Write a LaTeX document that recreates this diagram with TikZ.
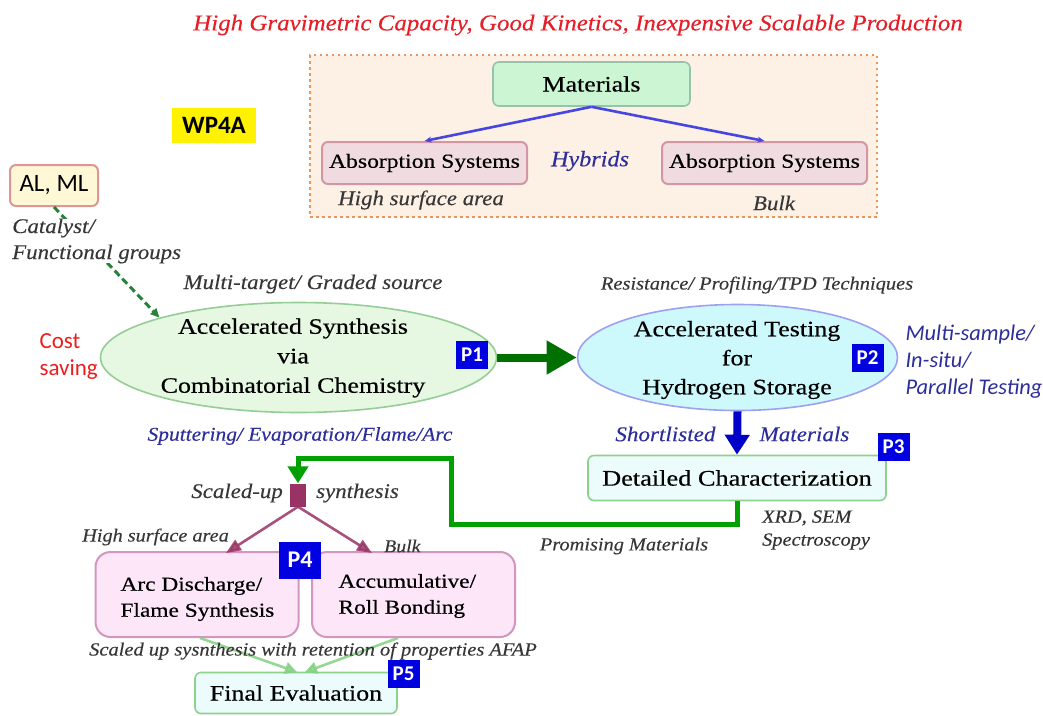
\documentclass[tikz,border=0pt]{standalone}
\usepackage{fontspec}
\setmainfont{Liberation Serif}[UprightFeatures={FakeStretch=1.18,FakeBold=0.35},ItalicFeatures={FakeStretch=1.1,FakeBold=0.2}]
\setsansfont{Carlito}
\usetikzlibrary{arrows.meta,shapes.geometric,calc}
\newcommand\fsz[2]{\fontsize{#1}{#2}\selectfont}
\definecolor{titlered}{RGB}{230,30,40}
\definecolor{peach}{RGB}{253,240,228}
\definecolor{peachline}{RGB}{232,150,90}
\definecolor{matfill}{RGB}{204,245,212}
\definecolor{matline}{RGB}{150,195,170}
\definecolor{absfill}{RGB}{240,220,224}
\definecolor{absline}{RGB}{212,150,165}
\definecolor{hyblue}{RGB}{70,70,225}
\definecolor{navytxt}{RGB}{45,45,155}
\definecolor{greytxt}{RGB}{55,55,55}
\definecolor{pblue}{RGB}{0,0,225}
\definecolor{e1fill}{RGB}{230,247,226}
\definecolor{e1line}{RGB}{150,205,150}
\definecolor{e2fill}{RGB}{205,248,252}
\definecolor{e2line}{RGB}{160,160,240}
\definecolor{darkgreen}{RGB}{0,112,0}
\definecolor{arrblue}{RGB}{0,0,200}
\definecolor{dcfill}{RGB}{236,252,252}
\definecolor{dcline}{RGB}{140,210,140}
\definecolor{pathgreen}{RGB}{0,160,0}
\definecolor{purp}{RGB}{153,51,102}
\definecolor{pinkfill}{RGB}{252,230,248}
\definecolor{pinkline}{RGB}{212,150,190}
\definecolor{lightgreen}{RGB}{130,210,130}
\definecolor{alfill}{RGB}{255,248,215}
\definecolor{alline}{RGB}{220,150,150}
\definecolor{costred}{RGB}{235,30,30}
\definecolor{dashgreen}{RGB}{40,130,60}
\begin{document}
\begin{tikzpicture}[x=1pt,y=-1pt,
  pbox/.style={fill=pblue,text=white,font=\sffamily\bfseries\fsz{21}{22},inner sep=0pt,minimum width=32pt,minimum height=28pt},
  absbox/.style={draw=absline,fill=absfill,line width=2pt,rounded corners=6pt,minimum width=205pt,minimum height=42pt,inner sep=0pt,font=\fsz{20}{24}},
  pinkbox/.style={draw=pinkline,fill=pinkfill,line width=2pt,rounded corners=15pt,minimum width=203pt,minimum height=85pt,inner sep=0pt},
  greenbox/.style={draw=dcline,fill=dcfill,line width=1.6pt,rounded corners=6pt,inner sep=0pt},
  itl/.style={font=\itshape\fsz{18}{22},text=greytxt,inner sep=1pt},
  purparrow/.style={draw=purp,opacity=0.85,line width=2.6pt,-{Triangle[length=15pt,width=12pt]}},
  lgarrow/.style={draw=lightgreen,opacity=0.85,line width=2.6pt,-{Triangle[length=12pt,width=12pt]}}
]
\useasboundingbox (0,0) rectangle (1043,715);
\fill[white] (0,0) rectangle (1043,715);

% title
\node[font=\itshape\fsz{22.7}{26},text=titlered] (title) at (578,25) {High Gravimetric Capacity, Good Kinetics, Inexpensive Scalable Production};

% materials panel
\node[draw=peachline,fill=peach,line width=2.5pt,dash pattern=on 2.5pt off 3.5pt,minimum width=567pt,minimum height=162pt,inner sep=0pt] (panel) at (593.5,136) {};
\node[draw=matline,fill=matfill,line width=1.6pt,rounded corners=6pt,minimum width=197pt,minimum height=44pt,inner sep=0pt,font=\fsz{22}{26}] (mat) at (591.5,84) {Materials};
\node[absbox] (absl) at (424.5,163) {Absorption Systems};
\node[absbox] (absr) at (764.5,163) {Absorption Systems};
\draw[hyblue,line width=2.6pt,-{Stealth[length=7pt,width=6pt]}] (mat.south) -- (absl.north);
\draw[hyblue,line width=2.6pt,-{Stealth[length=7pt,width=6pt]}] (mat.south) -- (absr.north);
\node[font=\itshape\fsz{22}{24},text=navytxt] (hyb) at (590,161) {Hybrids};
\node[itl,font=\itshape\fsz{20.8}{22}] (hsa1) at (421,200) {High surface area};
\node[itl,font=\itshape\fsz{20.8}{22}] (bulk1) at (774,203) {Bulk};

% WP4A
\node[fill=yellow,minimum width=84pt,minimum height=35pt,inner sep=0pt,font=\sffamily\bfseries\fsz{25}{26}] (wp) at (214,125.5) {WP4A};

% AL, ML
\node[draw=alline,fill=alfill,line width=2pt,rounded corners=6pt,minimum width=88pt,minimum height=41pt,inner sep=0pt,font=\sffamily\fsz{25}{26}] (alml) at (54,185.5) {AL, ML};

% ellipse 1
\node[ellipse,draw=e1line,fill=e1fill,line width=1.6pt,minimum width=396pt,minimum height=110pt,inner sep=0pt] (e1) at (298.5,357.5) {};
\node[align=center,font=\fsz{22}{29.5}] (e1t) at (293,358) {Accelerated Synthesis\\via\\Combinatorial Chemistry};
\node[pbox] (p1) at (472,355) {P1};

% dashed catalyst connector
\draw[dashgreen,line width=3pt,dash pattern=on 7pt off 4pt,-{Triangle[length=9pt,width=8pt]}] (alml.south) -- (e1.164);
\node[itl,font=\itshape\fsz{20.8}{26},align=left,anchor=west,fill=white,inner sep=0pt] (cat) at (12,241) {Catalyst/\\Functional groups};

\node[itl,font=\itshape\fsz{20.8}{22}] (mt) at (313,284) {Multi-target/ Graded source};
\node[font=\sffamily\fsz{23}{27},text=costred,align=left,anchor=west] (cost) at (36,357) {Cost\\saving};
\node[font=\itshape\fsz{19.5}{22},text=navytxt] (sput) at (300,436) {Sputtering/ Evaporation/Flame/Arc};

% ellipse 2
\node[ellipse,draw=e2line,fill=e2fill,line width=1.6pt,minimum width=320pt,minimum height=106pt,inner sep=0pt] (e2) at (737.5,357.5) {};
\node[align=center,font=\fsz{22}{29}] (e2t) at (737,360) {Accelerated Testing\\for\\Hydrogen Storage};
\node[pbox] (p2) at (867.5,357.5) {P2};
\node[itl,font=\itshape\fsz{18.6}{20}] (res) at (757,285) {Resistance/ Profiling/TPD Techniques};
\node[font=\sffamily\itshape\fsz{22.4}{27},text=navytxt,align=left,anchor=west] (ms) at (902,362) {Multi-sample/\\In-situ/\\Parallel Testing};

% thick arrow e1 -> e2
\draw[darkgreen,line width=8pt,-{Triangle[length=30pt,width=32pt]}] (e1.east) -- (e2.west);

% detailed characterization
\node[greenbox,minimum width=298pt,minimum height=45pt,font=\fsz{22.3}{26}] (dc) at (737,478) {Detailed Characterization};
\draw[arrblue,line width=8pt,-{Triangle[length=20pt,width=24pt]}] (e2.south) -- (dc.north);
\node[font=\itshape\fsz{21}{24},text=navytxt,anchor=east] (sl) at (719,434) {Shortlisted};
\node[font=\itshape\fsz{21}{24},text=navytxt,anchor=west] (slm) at (756,434) {Materials};
\node[pbox] (p3) at (893.5,446.5) {P3};
\node[itl,font=\itshape\fsz{18.5}{23},align=left,anchor=west,text=black!80] (xrd) at (761,530) {XRD, SEM\\Spectroscopy};
\node[itl,font=\itshape\fsz{18.5}{22}] (prom) at (624,546) {Promising Materials};

% scaled-up synthesis square
\node[fill=purp,minimum width=16pt,minimum height=23pt,inner sep=0pt] (sq) at (298,495) {};
\draw[pathgreen,line width=5pt,-{Triangle[length=17pt,width=20pt]}] (dc.south) -- ++(0,23) -| (451,458) -| (sq.north);
\node[itl,font=\itshape\fsz{20.8}{22},anchor=east] (su) at (284,493) {Scaled-up};
\node[itl,font=\itshape\fsz{20.8}{22},anchor=west] (syn) at (315,493) {synthesis};

% pink boxes
\node[pinkbox] (b4) at (197,594.5) {};
\node[pinkbox] (b5) at (413.5,594.5) {};
\node[font=\fsz{19.8}{26},align=left,anchor=west] (b4t) at (117,599) {Arc Discharge/\\Flame Synthesis};
\node[font=\fsz{19.8}{26},align=left,anchor=west] (b5t) at (335,596) {Accumulative/\\Roll Bonding};
\node[pbox,minimum width=42pt,minimum height=37pt,font=\sffamily\bfseries\fsz{24}{24}] (p4) at (300,560) {P4};
\coordinate (b4in) at (226,553);
\coordinate (b5in) at (372,553);
\draw[purparrow] (sq.south) -- (b4in);
\draw[purparrow] (sq.south) -- (b5in);
\node[itl,font=\itshape\fsz{18.4}{20},anchor=east] (hsa2) at (230,537) {High surface area};
\node[itl,font=\itshape\fsz{18}{20},anchor=west] (bulk2) at (383,546) {Bulk};

% final evaluation
\node[greenbox,minimum width=202pt,minimum height=41pt,font=\fsz{22}{26}] (fe) at (296,693) {Final Evaluation};
\coordinate (b4out) at (200,638);
\coordinate (b5out) at (398,638);
\coordinate (fein1) at (297,672);
\coordinate (fein2) at (305,672);
\draw[lgarrow] (b4out) -- (fein1);
\draw[lgarrow] (b5out) -- (fein2);
\node[itl,font=\itshape\fsz{18.6}{20}] (afap) at (313,651) {Scaled up sysnthesis with retention of properties AFAP};
\node[pbox] (p5) at (403.5,674) {P5};
\end{tikzpicture}
\end{document}
